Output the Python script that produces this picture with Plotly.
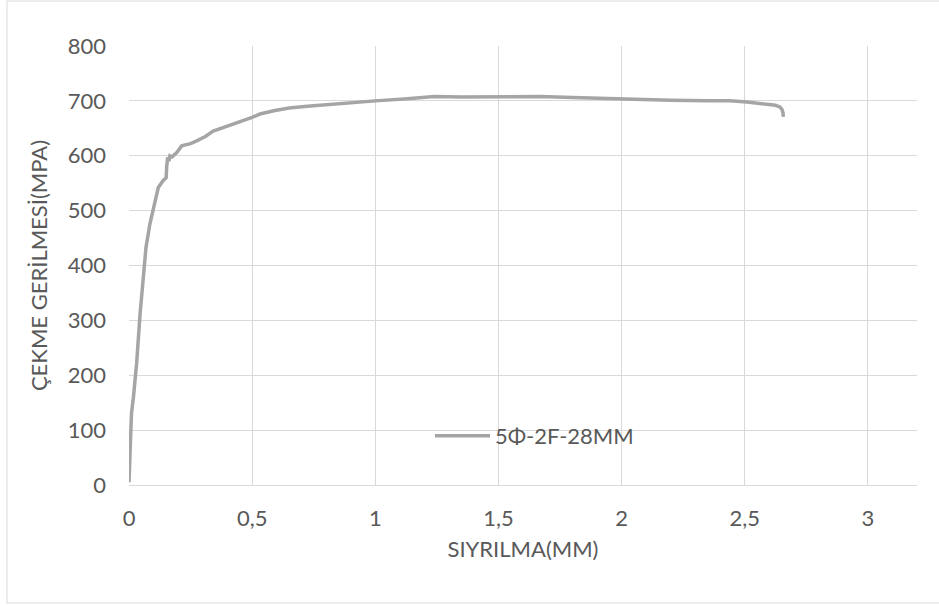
import plotly.graph_objects as go

series_name = "5Φ-2F-28MM"
slip_mm = [0, 0.002, 0.004, 0.0055, 0.01, 0.018, 0.031, 0.045, 0.058, 0.069, 0.085, 0.099,
           0.119, 0.139, 0.151, 0.153, 0.157, 0.162, 0.166, 0.175, 0.194, 0.214, 0.25,
           0.275, 0.31, 0.342, 0.39, 0.437, 0.5, 0.532, 0.588, 0.65, 0.724, 0.8, 0.859,
           0.95, 1.0, 1.13, 1.24, 1.35, 1.5, 1.67, 1.8, 1.94, 2.05, 2.2, 2.35, 2.44,
           2.51, 2.56, 2.60, 2.625, 2.643, 2.652, 2.656, 2.657]
stress_mpa = [5, 30, 70, 100, 130, 160, 222, 312, 385, 433, 476, 506,
              542, 555, 560, 580, 597, 590, 600, 598, 606, 618, 622,
              627, 635, 645, 652, 660, 670, 676, 682, 687, 690, 693, 695,
              698, 700, 704, 708, 707, 708, 708, 706, 704, 703, 701, 700, 700,
              698, 696, 694, 692, 689, 684, 678, 671]

x_ticks = [0, 0.5, 1, 1.5, 2, 2.5, 3]
x_tick_labels = ["0", "0,5", "1", "1,5", "2", "2,5", "3"]
y_ticks = [0, 100, 200, 300, 400, 500, 600, 700, 800]

FONT = "Lato, Calibri, Carlito, sans-serif"
TXT = "#595959"
GRID = "#D9D9D9"
FS = 22

fig = go.Figure()
fig.add_trace(go.Scatter(
    x=slip_mm, y=stress_mpa, mode="lines", name=series_name,
    line=dict(color="#A5A5A5", width=3.5), showlegend=True,
))

W, H = 939, 605
L, R, T, B = 129, 22, 46, 120
pw, ph = W - L - R, H - T - B

fig.update_layout(
    width=W, height=H,
    margin=dict(l=L, r=R, t=T, b=B, pad=0),
    paper_bgcolor="white", plot_bgcolor="white",
    font=dict(family=FONT, size=FS, color=TXT),
    showlegend=True,
    legend=dict(x=(430 - L) / pw, y=(H - B - 436) / ph, xanchor="left", yanchor="middle",
                bgcolor="rgba(0,0,0,0)", font=dict(size=FS, color=TXT),
                itemwidth=55, borderwidth=0),
    xaxis=dict(
        range=[0, 3.2], tickvals=x_ticks, ticktext=x_tick_labels,
        showgrid=True, gridcolor=GRID, gridwidth=1,
        showline=True, linecolor=GRID, linewidth=1,
        zeroline=False, ticks="", ticklabelstandoff=14,
        title=dict(text="SIYRILMA(MM)", font=dict(size=FS, color=TXT), standoff=11),
        tickfont=dict(size=FS, color=TXT),
    ),
    yaxis=dict(
        range=[0, 800], tickvals=y_ticks,
        showgrid=True, gridcolor=GRID, gridwidth=1,
        showline=False, zeroline=False, ticks="", ticklabelstandoff=22,
        title=dict(text="ÇEKME GERİLMESİ(MPA)", font=dict(size=FS, color=TXT), standoff=14),
        tickfont=dict(size=FS, color=TXT),
    ),
    shapes=[dict(type="rect", xref="paper", yref="paper",
                 x0=(7 - L) / pw, x1=(960 - L) / pw,
                 y0=(H - B - 603) / ph, y1=(H - B - 1) / ph,
                 line=dict(color="#D9D9D9", width=1), fillcolor="rgba(0,0,0,0)",
                 layer="below")],
)

fig.write_html("out.html", config={"displayModeBar": False},
               post_script="document.body.style.margin='0';")
